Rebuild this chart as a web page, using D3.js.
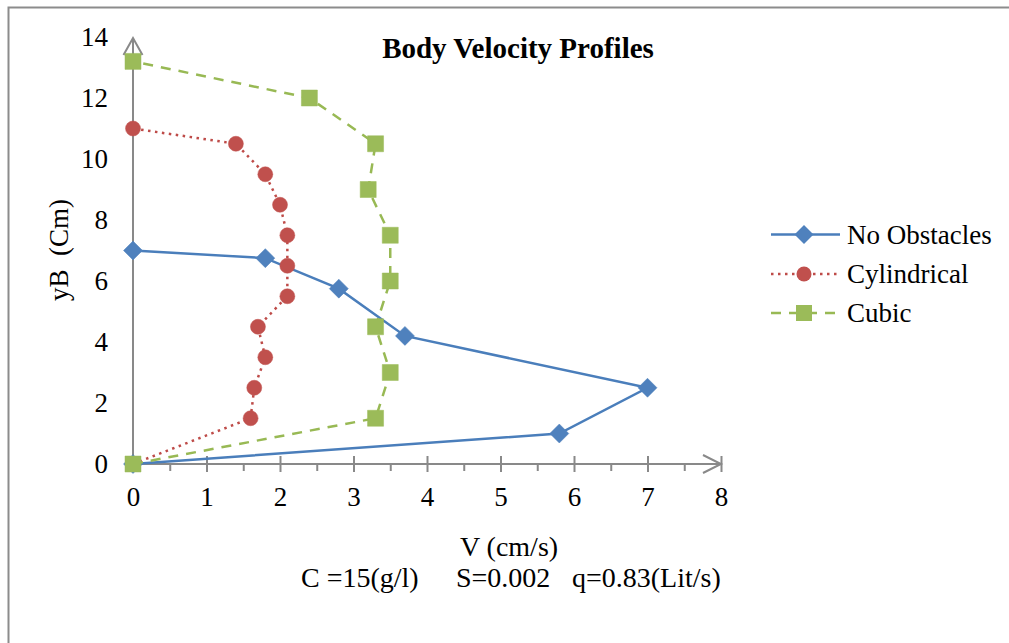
<!DOCTYPE html>
<html>
<head>
<meta charset="utf-8">
<script src="https://cdn.jsdelivr.net/npm/d3@7/dist/d3.min.js"></script>
<style>
  html, body { margin: 0; padding: 0; background: #fff; }
  svg { display: block; }
  text { font-family: "Liberation Serif", "Times New Roman", serif; fill: #000; }
</style>
</head>
<body>
<script>
const title = "Body Velocity Profiles";
const xTicks = [0, 1, 2, 3, 4, 5, 6, 7, 8];
const xMinorTicks = [0.5, 1.5, 2.5, 3.5, 4.5, 5.5, 6.5, 7.5];
const yTicks = [0, 2, 4, 6, 8, 10, 12, 14];
const seriesNames = ["No Obstacles", "Cylindrical", "Cubic"];
const noObstaclesV = [0, 5.8, 7, 3.7, 2.8, 1.8, 0];
const noObstaclesY = [0, 1, 2.5, 4.2, 5.75, 6.75, 7];
const cylindricalV = [0, 1.6, 1.65, 1.8, 1.7, 2.1, 2.1, 2.1, 2.0, 1.8, 1.4, 0];
const cylindricalY = [0, 1.5, 2.5, 3.5, 4.5, 5.5, 6.5, 7.5, 8.5, 9.5, 10.5, 11];
const cubicV = [0, 3.3, 3.5, 3.3, 3.5, 3.5, 3.2, 3.3, 2.4, 0];
const cubicY = [0, 1.5, 3, 4.5, 6, 7.5, 9, 10.5, 12, 13.2];
const xLabel = "V (cm/s)";
const yLabel = "yB  (Cm)";
const noteParts = ["C =15(g/l)", "S=0.002", "q=0.83(Lit/s)"];

const W = 1009, H = 643;
const svg = d3.select("body").append("svg").attr("width", W).attr("height", H);

// outer frame
svg.append("rect").attr("x", 8.5).attr("y", 7.5).attr("width", 1100).attr("height", 700)
  .attr("fill", "none").attr("stroke", "#8c8c8c").attr("stroke-width", 2);

const x = d3.scaleLinear().domain([0, 8]).range([133, 721]);
const y = d3.scaleLinear().domain([0, 14]).range([464, 37]);
const axisColor = "#898989";

// x axis ticks (major)
const gxT = svg.append("g").attr("transform", `translate(0,${y(0)})`)
  .call(d3.axisBottom(x).tickValues(xTicks).tickSize(8).tickSizeOuter(0).tickFormat(""));
gxT.select(".domain").remove();
gxT.selectAll(".tick line").attr("y1", -8).attr("stroke", axisColor).attr("stroke-width", 2);
// minor
const gxm = svg.append("g").attr("transform", `translate(0,${y(0)})`)
  .call(d3.axisBottom(x).tickValues(xMinorTicks).tickSize(7).tickSizeOuter(0).tickFormat(""));
gxm.select(".domain").remove();
gxm.selectAll(".tick line").attr("stroke", axisColor).attr("stroke-width", 2);
// labels
const gxl = svg.append("g").attr("transform", `translate(0,${y(0)})`)
  .call(d3.axisBottom(x).tickValues(xTicks).tickSize(0).tickPadding(23).tickFormat(d3.format("d")));
gxl.select(".domain").remove();
gxl.selectAll("text").style("font-family", "Liberation Serif").style("font-size", "27px").attr("fill", "#000");

// y labels
const gyl = svg.append("g").attr("transform", `translate(${x(0)},0)`)
  .call(d3.axisLeft(y).tickValues(yTicks).tickSize(0).tickPadding(25).tickFormat(d3.format("d")));
gyl.select(".domain").remove();
gyl.selectAll("text").style("font-family", "Liberation Serif").style("font-size", "27px").attr("fill", "#000");

// axis lines with open arrows
const axes = svg.append("g").attr("fill", "none").attr("stroke", axisColor).attr("stroke-width", 2);
axes.append("line").attr("x1", x(0)).attr("x2", x(8)).attr("y1", y(0)).attr("y2", y(0));
axes.append("path").attr("d", `M${x(8) - 18},${y(0) - 9} L${x(8)},${y(0)} L${x(8) - 18},${y(0) + 9}`);
axes.append("line").attr("x1", x(0)).attr("x2", x(0)).attr("y1", y(0)).attr("y2", y(14) + 1);
axes.append("path").attr("d", `M${x(0) - 9.5},${y(14) + 18} L${x(0)},${y(14) + 1} L${x(0) + 9.5},${y(14) + 18}`);

const series = [
  { name: seriesNames[0], v: noObstaclesV, yy: noObstaclesY, line: "#4a7ebb", fill: "#4f81bd", dash: null, marker: "diamond" },
  { name: seriesNames[1], v: cylindricalV, yy: cylindricalY, line: "#be4b48", fill: "#c0504d", dash: "2.5,4.5", marker: "circle" },
  { name: seriesNames[2], v: cubicV, yy: cubicY, line: "#98b954", fill: "#9bbb59", dash: "10,8", marker: "square" }
];

const lineGen = d3.line().x(d => x(d[0])).y(d => y(d[1]));
function markerPath(type) {
  if (type === "diamond") return "M0,-9.5L9.5,0L0,9.5L-9.5,0Z";
  if (type === "circle") return d3.symbol(d3.symbolCircle, Math.PI * 7.5 * 7.5)();
  return "M-8,-8H8V8H-8Z";
}

series.forEach(s => {
  const pts = s.v.map((v, i) => [v, s.yy[i]]);
  const g = svg.append("g");
  g.append("path").attr("d", lineGen(pts)).attr("fill", "none")
    .attr("stroke", s.line).attr("stroke-width", 2.5)
    .attr("stroke-dasharray", s.dash);
  g.selectAll("path.m").data(pts).enter().append("path").attr("class", "m")
    .attr("d", markerPath(s.marker))
    .attr("transform", d => `translate(${x(d[0])},${y(d[1])})`)
    .attr("fill", s.fill).attr("stroke", s.fill).attr("stroke-width", 0.5);
});

// legend
const legend = svg.append("g");
const legY = [234.5, 274, 313];
series.forEach((s, i) => {
  const g = legend.append("g").attr("transform", `translate(0,${legY[i]})`);
  g.append("line").attr("x1", 771).attr("x2", 840).attr("y1", 0).attr("y2", 0)
    .attr("stroke", s.line).attr("stroke-width", 2.5).attr("stroke-dasharray", s.dash);
  g.append("path").attr("d", markerPath(s.marker)).attr("transform", "translate(804,0)").attr("fill", s.fill);
  g.append("text").attr("x", 847).attr("y", 9).style("font-size", "27px").text(s.name);
});

// title
svg.append("text").attr("x", 518).attr("y", 58).attr("text-anchor", "middle")
  .style("font-size", "29px").style("font-weight", "bold").text(title);

// axis labels
svg.append("text").attr("x", 509).attr("y", 556).attr("text-anchor", "middle")
  .style("font-size", "28px").text(xLabel);
svg.append("text").attr("transform", "translate(68,250) rotate(-90)").attr("text-anchor", "middle")
  .style("font-size", "27px").style("white-space", "pre").text(yLabel);

const note = svg.append("text").attr("y", 587).style("font-size", "28px");
const noteX = [301, 456, 572];
noteParts.forEach((t, i) => note.append("tspan").attr("x", noteX[i]).text(t));
</script>
</body>
</html>
